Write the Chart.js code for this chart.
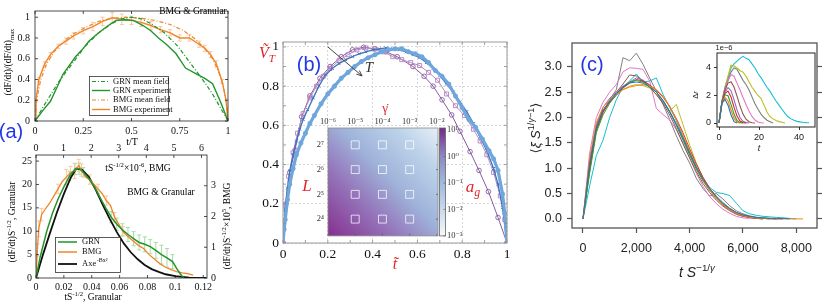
<!DOCTYPE html>
<html><head><meta charset="utf-8">
<script src="https://cdn.jsdelivr.net/npm/chart.js@4.4.1/dist/chart.umd.min.js"></script>
<style>
html,body{margin:0;padding:0;background:#fff;}
#root{position:relative;width:830px;height:307px;overflow:hidden;background:#fff;}
canvas{position:absolute;}
.t{position:absolute;white-space:nowrap;line-height:1;transform:translate(-50%,-50%);}
.r{transform:translate(-50%,-50%) rotate(-90deg);}
.serif{font-family:"Liberation Serif","DejaVu Serif",serif;}
.sans{font-family:"Liberation Sans","DejaVu Sans",Arial,sans-serif;}
.t sup,.t sub{font-size:70%;line-height:0;}
.red{color:#e0262c;}
.blue{color:#2437e6;}
</style></head><body><div id="root"></div>
<script>
// ================= DATA =================
// ---- (a) upper panel: normalised rate vs t/T ----
const aTopTicksX = [0, 0.25, 0.5, 0.75, 1];
const aTopTicksY = [0, 0.2, 0.4, 0.6, 0.8, 1];
const grnMeanX = [0,0.04,0.08,0.12,0.16,0.2,0.26,0.33,0.4,0.45,0.5,0.55,0.6,0.67,0.74,0.8,0.84,0.88,0.92,0.96,1];
const grnMeanY = [0,0.13,0.25,0.37,0.47,0.57,0.72,0.85,0.94,0.985,1,0.985,0.94,0.85,0.72,0.57,0.47,0.37,0.26,0.13,0];
const grnExpX = [0,0.04,0.08,0.12,0.145,0.18,0.21,0.25,0.28,0.33,0.38,0.42,0.47,0.51,0.56,0.6,0.64,0.68,0.73,0.78,0.84,0.88,0.92,0.96,1];
const grnExpY = [0,0.1,0.19,0.35,0.45,0.54,0.62,0.7,0.77,0.85,0.92,0.97,0.975,0.97,0.92,0.87,0.8,0.74,0.65,0.51,0.45,0.41,0.36,0.19,0];
const bmgMeanX = [0,0.01,0.03,0.06,0.1,0.15,0.2,0.26,0.33,0.4,0.47,0.55,0.62,0.7,0.77,0.83,0.88,0.92,0.95,0.975,0.99,1];
const bmgMeanY = [0,0.22,0.4,0.55,0.67,0.77,0.84,0.9,0.96,0.99,1,0.99,0.97,0.93,0.87,0.79,0.7,0.6,0.48,0.34,0.2,0];
const bmgExpX = [0,0.005,0.02,0.05,0.08,0.12,0.16,0.2,0.25,0.3,0.35,0.4,0.45,0.5,0.55,0.6,0.65,0.7,0.75,0.8,0.85,0.88,0.91,0.94,0.97,0.99,1];
const bmgExpY = [0,0.2,0.4,0.55,0.64,0.72,0.77,0.82,0.87,0.91,0.96,0.995,0.98,0.97,0.95,0.92,0.88,0.85,0.8,0.8,0.74,0.7,0.64,0.55,0.38,0.2,0];
const bmgExpErr = [0,0,0.02,0.02,0.02,0.02,0.03,0.03,0.03,0.04,0.04,0.05,0.05,0.04,0.04,0.04,0.03,0.03,0.03,0.03,0.03,0.03,0.03,0.03,0.02,0,0];

// ---- (a) lower panel: scaled averages ----
const aBotTicksX = [0, 0.02, 0.04, 0.06, 0.08, 0.1, 0.12];
const aBotTicksX2 = [0, 1, 2, 3, 4, 5, 6];
const aBotTicksY = [0, 5, 10, 15, 20, 25];
const aBotTicksY2 = [0, 1, 2, 3];
const grnScaledX = [0,0.003,0.0077,0.012,0.016,0.02,0.024,0.028,0.031,0.034,0.038,0.042,0.046,0.05,0.054,0.058,0.062,0.066,0.07,0.074,0.078,0.082,0.086,0.09,0.094,0.098,0.101,0.104,0.106];
const grnScaledY = [0,4.5,10,14,17,19.5,21.8,23.3,23.4,22.6,21.2,19.5,17.2,15,13,11.5,10.3,9.3,8.4,7.6,7.2,6.7,5.9,5,4.3,3.5,2,0.7,0];
const grnScaledErr = [0,0,0,0,0,0,1,1.2,1.2,1,0,0,0,0,1.2,1.3,1.3,1.5,1.5,1.6,1.6,1.5,1.7,2,2,1.5,0,0,0];
// BMG on top (x1e-6) / right (x1e5) axes
const bmgScaledX = [0,0.05,0.1,0.2,0.35,0.5,0.65,0.8,0.95,1.1,1.25,1.4,1.55,1.65,1.8,1.95,2.1,2.25,2.4,2.55,2.7,2.85,3.0,3.15,3.3,3.5,3.7,3.9,4.1,4.3,4.5,4.7,4.9,5.1,5.3,5.5,5.7];
const bmgScaledY = [0,0.91,1.6,2.06,2.26,2.44,2.67,2.9,3.13,3.28,3.43,3.48,3.66,3.51,3.28,3.2,3.05,2.9,2.74,2.52,2.36,1.98,1.75,1.52,1.37,1.22,1.07,0.96,0.76,0.61,0.46,0.35,0.27,0.21,0.17,0.14,0.09];
const bmgScaledErr = [0,0.2,0.25,0.2,0,0,0,0.15,0,0.25,0.2,0.25,0.2,0.2,0,0.15,0,0.15,0,0.15,0,0.15,0,0.15,0,0,0,0,0,0,0,0,0,0,0,0,0];
const fitX = [0,0.005,0.01,0.015,0.02,0.025,0.029,0.033,0.038,0.043,0.048,0.053,0.058,0.063,0.068,0.073,0.078,0.083,0.088,0.093,0.1,0.11,0.122];
const fitY = [0,5,9.6,14,18,21.5,23.4,23.2,21.6,18.8,15.6,12.6,9.8,7.4,5.5,4,2.8,1.9,1.3,0.8,0.4,0.1,0];

// ---- (b) normalised velocity profiles ----
const bTicks = [0, 0.2, 0.4, 0.6, 0.8, 1];
const bMinor = [0.1, 0.3, 0.5, 0.7, 0.9];
const bPurpleX = [0,0.013,0.03,0.054,0.083,0.12,0.165,0.21,0.26,0.31,0.36,0.41,0.46,0.51,0.58,0.63,0.67,0.71,0.753,0.79,0.835,0.875,0.917,0.96,1];
const bPurpleY = [0,0.2,0.36,0.474,0.644,0.75,0.84,0.9,0.95,0.985,0.998,0.99,0.975,0.95,0.9,0.85,0.8,0.73,0.653,0.57,0.466,0.37,0.262,0.13,0];
const bLilacX = [0,0.01,0.025,0.045,0.065,0.09,0.12,0.15,0.18,0.21,0.25,0.29,0.33,0.37,0.41,0.45,0.49,0.53,0.57,0.61,0.65,0.69,0.73,0.77,0.81,0.85,0.88,0.91,0.94,0.97,0.99,1];
const bLilacY = [0,0.19,0.34,0.46,0.56,0.66,0.74,0.8,0.85,0.89,0.93,0.96,0.985,0.995,0.99,0.975,0.95,0.935,0.92,0.905,0.87,0.83,0.76,0.7,0.65,0.58,0.52,0.45,0.36,0.24,0.12,0];
const bBlueX = [0,0.009,0.02,0.031,0.045,0.06,0.075,0.09,0.11,0.135,0.16,0.19,0.22,0.25,0.28,0.31,0.34,0.37,0.4,0.43,0.46,0.49,0.52,0.55,0.58,0.61,0.64,0.67,0.7,0.73,0.76,0.79,0.82,0.85,0.88,0.91,0.94,0.96,0.98,1];
const bBlueY = [0,0.17,0.28,0.37,0.45,0.52,0.58,0.63,0.68,0.74,0.8,0.857,0.89,0.915,0.935,0.95,0.965,0.975,0.985,0.99,0.995,0.99,0.985,0.975,0.96,0.945,0.92,0.89,0.855,0.81,0.77,0.72,0.67,0.61,0.54,0.47,0.38,0.3,0.18,0];
const bSkyX = [0,0.005,0.01,0.02,0.03,0.045,0.06,0.08,0.1,0.12,0.14,0.17,0.2,0.23,0.26,0.29,0.32,0.35,0.38,0.41,0.44,0.47,0.5,0.53,0.56,0.59,0.62,0.65,0.68,0.71,0.74,0.77,0.8,0.83,0.86,0.89,0.92,0.94,0.96,0.98,0.99,1];
const bSkyY = [0,0.07,0.12,0.22,0.3,0.38,0.45,0.51,0.56,0.61,0.65,0.71,0.76,0.8,0.84,0.87,0.9,0.925,0.945,0.96,0.975,0.985,0.99,0.99,0.975,0.965,0.95,0.92,0.88,0.85,0.81,0.75,0.69,0.63,0.59,0.53,0.47,0.43,0.37,0.25,0.15,0];
// (b) inset: strain rate x system size grid
const bRates = [1e-5, 1e-4, 1e-3];
const bSizes = [16, 32, 64, 128];
const bRateTicks = [1e-6, 1e-5, 1e-4, 1e-3, 1e-2];
const bSizeTicks = [16, 32, 64, 128];
const bBarTicks = [1e-3, 1e-2, 1e-1, 1, 10];

// ---- (c) collapsed avalanche shapes ----
const cTicksX = [0, 2000, 4000, 6000, 8000];
const cTicksY = [0, 0.5, 1.0, 1.5, 2.0, 2.5, 3.0];
const cX = [0,250,500,750,1000,1250,1500,1750,2000,2250,2500,2750,3000,3250,3500,3750,4000,4250,4500,4750,5000,5250,5500,5750,6000,6250,6500,6750,7000,7250,7500,7750,8000,8250];
const cBlue   = [0,1.10,1.80,2.15,2.32,2.47,2.60,2.68,2.70,2.68,2.60,2.50,2.34,2.12,1.88,1.60,1.30,1.02,0.78,0.60,0.45,0.32,0.21,0.13,0.08,0.05,0.03,0.02,0.01,0.01,0.01,0.00];
const cOrange = [0,1.20,1.90,2.20,2.35,2.45,2.55,2.60,2.63,2.65,2.62,2.55,2.42,2.22,1.96,1.66,1.34,1.03,0.77,0.57,0.41,0.28,0.18,0.11,0.06,0.03,0.02,0.01,0.01,0.00,0.00,0.00,0.00,0.00];
const cGreen  = [0,0.90,1.70,2.05,2.28,2.45,2.60,2.70,2.73,2.70,2.62,2.50,2.34,2.12,1.86,1.56,1.26,0.98,0.75,0.57,0.42,0.30,0.20,0.12,0.07,0.04,0.02,0.01,0.00];
const cRed    = [0,1.00,1.80,2.12,2.30,2.44,2.58,2.68,2.75,2.72,2.64,2.54,2.40,2.22,1.98,1.70,1.38,1.08,0.82,0.60,0.43,0.29,0.19,0.11,0.06,0.03,0.02,0.01,0.00,0.00,0.00];
const cPurple = [0,1.10,1.85,2.20,2.38,2.50,2.62,2.70,2.78,2.74,2.64,2.50,2.32,2.10,1.84,1.56,1.27,1.00,0.76,0.56,0.40,0.27,0.17,0.10,0.05,0.03,0.01,0.00];
const cBrown  = [0,1.00,1.75,2.10,2.32,2.50,2.66,2.84,2.82,2.72,2.60,2.45,2.28,2.05,1.78,1.48,1.20,0.93,0.70,0.52,0.37,0.25,0.16,0.09,0.05,0.03,0.01,0.00];
const cPink   = [0,1.30,2.00,2.30,2.50,2.65,2.90,2.98,2.97,2.95,2.72,2.18,2.06,1.95,1.76,1.50,1.20,0.90,0.64,0.44,0.30,0.19,0.11,0.05,0.02,0.01,0.01,0.00];
const cGray   = [0,0.95,1.75,2.10,2.35,2.55,3.18,3.12,3.27,3.05,2.78,2.52,2.26,1.96,1.64,1.35,1.10,0.80,0.60,0.45,0.50,0.39,0.26,0.16,0.10,0.06,0.03,0.02,0.01,0.00];
const cOlive  = [0,1.10,1.85,2.15,2.30,2.45,2.55,2.62,2.65,2.63,2.58,2.46,2.30,2.12,2.26,1.86,1.46,1.10,0.82,0.60,0.43,0.30,0.20,0.12,0.08,0.05,0.03,0.02,0.01,0.00];
const cCyan   = [0,0.65,1.25,1.55,2.00,2.35,2.60,2.72,2.86,2.70,2.72,2.78,2.46,2.20,1.94,1.62,1.32,1.02,0.80,0.62,0.52,0.50,0.46,0.31,0.16,0.10,0.07,0.05,0.04,0.03,0.02,0.01,0.00];
// (c) inset: raw shapes, values in units of 1e-6
const iTicksX = [0, 20, 40];
const iTicksY = [0, 2, 4];
const insT = [0,1.5,3,4.5,6,7.5,9,10.5,12,13.5,15,16.5,18,19.5,21,22.5,24,25.5,27,28.5,30,31.5,33,34.5,36,37.5,39,40.5,42,43.5,45];
const iBlue   = [0,1.45,1.72,1.30,0.60,0.10,0];
const iOrange = [0,1.45,1.88,1.60,0.95,0.35,0.06,0];
const iGreen  = [0,1.50,2.05,1.98,1.35,0.65,0.18,0.03,0];
const iRed    = [0,1.50,2.15,2.32,1.90,1.15,0.50,0.14,0.03,0];
const iPurple = [0,1.52,2.25,2.58,2.35,1.70,0.95,0.40,0.12,0.03,0];
const iBrown  = [0,1.55,2.40,2.90,3.00,2.62,1.95,1.25,0.65,0.28,0.09,0.02,0];
const iPink   = [0,1.55,2.45,3.05,3.52,3.40,2.90,2.40,1.85,1.35,0.88,0.48,0.22,0.08,0.02,0];
const iGray   = [0,1.60,2.50,3.10,3.70,4.00,3.90,3.50,3.10,2.80,2.40,1.90,1.40,1.00,0.65,0.40,0.20,0.10,0];
const iOlive  = [0,1.60,2.60,3.40,4.20,4.15,4.00,3.80,3.70,3.40,3.00,2.60,2.30,2.00,1.80,1.30,0.80,0.46,0.30,0.18,0.10,0.05,0];
const iCyan   = [0,1.60,2.60,3.30,4.00,4.30,4.50,4.70,4.85,4.70,4.60,4.30,4.00,3.60,3.30,2.95,2.60,2.30,1.95,1.60,1.30,1.00,0.70,0.45,0.30,0.20,0.12,0.08,0.05,0.03,0.02];

// ================= STYLE / HELPERS =================
const SERIF = '"Liberation Serif","DejaVu Serif",serif';
const SANS = '"Liberation Sans","DejaVu Sans",Arial,sans-serif';
const GREEN = '#23952a', ORANGE = '#f0862a';
const TAB = ['#1f77b4','#ff7f0e','#2ca02c','#d62728','#9467bd','#8c564b','#e377c2','#7f7f7f','#bcbd22','#17becf'];
const SUPS = {'0':'⁰','1':'¹','2':'²','3':'³','4':'⁴','5':'⁵','6':'⁶','7':'⁷','8':'⁸','9':'⁹','-':'⁻'};
const sup = s => String(s).split('').map(c => SUPS[c] || c).join('');
const pow10 = v => '10' + sup(Math.round(Math.log10(v)));
const pow2 = v => '2' + sup(Math.round(Math.log2(v)));
Chart.defaults.elements.point.radius = 0;
Chart.defaults.elements.line.tension = 0;

const root = document.getElementById('root');
function pts(xs, ys) { const n = Math.min(xs.length, ys.length), o = []; for (let i = 0; i < n; i++) o.push({x: xs[i], y: ys[i]}); return o; }
function setTicks(list) { return s => { s.ticks = list.map(v => ({value: v})); }; }
function ax(pos, size, o) {
  const horiz = pos === 'top' || pos === 'bottom';
  return Object.assign({position: pos, afterFit: s => { if (horiz) s.height = size; else s.width = size; }}, o);
}
function pad(pos, size) { return ax(pos, size, {type: 'linear', display: true, grid: {display: false, drawTicks: false}, border: {display: false}, ticks: {display: false}}); }
function tk(font, size, padding, cb, color) { return {font: {family: font, size: size}, color: color || '#111', padding: padding, callback: cb, autoSkip: false, maxRotation: 0, minRotation: 0}; }
const noGrid = {grid: {display: false, drawTicks: false}, border: {display: false}};
function mk(left, top, w, h, cfg) {
  const c = document.createElement('canvas');
  c.width = w; c.height = h;
  Object.assign(c.style, {left: left + 'px', top: top + 'px', width: w + 'px', height: h + 'px'});
  root.appendChild(c);
  cfg.options = Object.assign({responsive: false, animation: false, devicePixelRatio: 1, events: []}, cfg.options);
  cfg.options.layout = {padding: 0, autoPadding: false};
  cfg.options.plugins = Object.assign({legend: {display: false}, tooltip: {enabled: false}}, cfg.options.plugins);
  return new Chart(c, cfg);
}
function txt(html, x, y, cls, style) {
  const d = document.createElement('div');
  d.className = 't ' + (cls || '');
  d.innerHTML = html;
  d.style.left = x + 'px'; d.style.top = y + 'px';
  if (style) d.style.cssText += ';' + style;
  root.appendChild(d);
}

const deco = {
  id: 'deco',
  beforeDraw(chart, args, o) {
    const {ctx, chartArea: a} = chart;
    if (o.bg) { ctx.save(); ctx.fillStyle = o.bg; ctx.fillRect(a.left, a.top, a.width, a.height); ctx.restore(); }
  },
  beforeDatasetsDraw(chart, args, o) {
    const {ctx, chartArea: a} = chart;
    if (o.heat) {
      ctx.save();
      const g = ctx.createLinearGradient(a.left, a.bottom, a.right, a.top);
      o.heat.forEach(s => g.addColorStop(s[0], s[1]));
      ctx.fillStyle = g; ctx.fillRect(a.left, a.top, a.width, a.height); ctx.restore();
    }
    chart.data.datasets.forEach((ds, i) => {
      if (!ds.errors) return;
      const meta = chart.getDatasetMeta(i);
      const sx = chart.scales[meta.xAxisID], sy = chart.scales[meta.yAxisID];
      ctx.save(); ctx.strokeStyle = ds.errorColor; ctx.lineWidth = 1; ctx.beginPath();
      ds.data.forEach((p, j) => {
        const e = ds.errors[j]; if (!e) return;
        const x = sx.getPixelForValue(p.x), y1 = sy.getPixelForValue(p.y - e), y2 = sy.getPixelForValue(p.y + e), c = ds.errorCap || 2;
        ctx.moveTo(x, y1); ctx.lineTo(x, y2);
        ctx.moveTo(x - c, y1); ctx.lineTo(x + c, y1);
        ctx.moveTo(x - c, y2); ctx.lineTo(x + c, y2);
      });
      ctx.stroke(); ctx.restore();
    });
  },
  afterDraw(chart, args, o) {
    const {ctx, chartArea: a} = chart;
    if (o.ticks) o.ticks.forEach(t => {
      const sc = chart.scales[t.axis], L = t.len || 3;
      ctx.save(); ctx.strokeStyle = t.color || '#222'; ctx.lineWidth = t.width || 0.8; ctx.beginPath();
      t.values.forEach(v => {
        const p = sc.getPixelForValue(v);
        if (t.side === 'bottom') { ctx.moveTo(p, a.bottom); ctx.lineTo(p, a.bottom - L); }
        else if (t.side === 'top') { ctx.moveTo(p, a.top); ctx.lineTo(p, a.top + L); }
        else if (t.side === 'left') { ctx.moveTo(a.left, p); ctx.lineTo(a.left + L, p); }
        else { ctx.moveTo(a.right, p); ctx.lineTo(a.right - L, p); }
      });
      ctx.stroke(); ctx.restore();
    });
    if (o.colorbar) {
      const cb = o.colorbar, x0 = a.right + cb.gap, w = cb.width;
      const g = ctx.createLinearGradient(0, a.bottom, 0, a.top);
      cb.stops.forEach(s => g.addColorStop(s[0], s[1]));
      ctx.save(); ctx.fillStyle = g; ctx.fillRect(x0, a.top, w, a.height);
      ctx.strokeStyle = cb.edge; ctx.lineWidth = 0.8; ctx.strokeRect(x0, a.top, w, a.height);
      const sc = chart.scales[cb.axis]; ctx.beginPath();
      sc.ticks.forEach(t => { const p = sc.getPixelForValue(t.value); ctx.moveTo(x0 + w, p); ctx.lineTo(x0 + w - 2, p); });
      ctx.stroke(); ctx.restore();
    }
    if (o.frame) { ctx.save(); ctx.strokeStyle = o.frame.color; ctx.lineWidth = o.frame.width; ctx.strokeRect(a.left, a.top, a.width, a.height); ctx.restore(); }
    if (o.arrow) {
      const r = o.arrow, sx = chart.scales.x, sy = chart.scales.y;
      const x1 = sx.getPixelForValue(r.from[0]), y1 = sy.getPixelForValue(r.from[1]);
      const x2 = sx.getPixelForValue(r.to[0]), y2 = sy.getPixelForValue(r.to[1]);
      const an = Math.atan2(y2 - y1, x2 - x1), h = 6;
      ctx.save(); ctx.strokeStyle = r.color; ctx.lineWidth = 1; ctx.beginPath();
      ctx.moveTo(x1, y1); ctx.lineTo(x2, y2);
      ctx.moveTo(x2, y2); ctx.lineTo(x2 - h * Math.cos(an - 0.4), y2 - h * Math.sin(an - 0.4));
      ctx.moveTo(x2, y2); ctx.lineTo(x2 - h * Math.cos(an + 0.4), y2 - h * Math.sin(an + 0.4));
      ctx.stroke(); ctx.restore();
    }
    if (o.legend) {
      const L = o.legend;
      ctx.save(); ctx.fillStyle = '#fff'; ctx.fillRect(L.x, L.y, L.w, L.h);
      ctx.strokeStyle = '#333'; ctx.lineWidth = 0.8; ctx.strokeRect(L.x + 0.5, L.y + 0.5, L.w, L.h);
      ctx.textBaseline = 'middle';
      L.items.forEach((it, k) => {
        const y = L.y + L.rows[k];
        ctx.strokeStyle = it.color; ctx.lineWidth = it.width; ctx.setLineDash(it.dash || []);
        ctx.beginPath(); ctx.moveTo(L.x + L.lx0, y); ctx.lineTo(L.x + L.lx1, y); ctx.stroke(); ctx.setLineDash([]);
        ctx.fillStyle = '#111'; ctx.font = L.font; ctx.fillText(it.label, L.x + L.tx, y);
        if (it.sup) { const w = ctx.measureText(it.label).width; ctx.font = L.supFont; ctx.fillText(it.sup, L.x + L.tx + w + 0.5, y - 3.5); }
      });
      ctx.restore();
    }
  }
};
Chart.register(deco);

// ================= (a) upper =================
const dashDot = [4, 2, 1, 2];
mk(0, 0, 240, 150, {
  type: 'line',
  data: {datasets: [
    {data: pts(grnMeanX, grnMeanY), borderColor: GREEN, borderWidth: 1.2, borderDash: dashDot},
    {data: pts(grnExpX, grnExpY), borderColor: GREEN, borderWidth: 1.4},
    {data: pts(bmgMeanX, bmgMeanY), borderColor: ORANGE, borderWidth: 1.2, borderDash: dashDot},
    {data: pts(bmgExpX, bmgExpY), borderColor: ORANGE, borderWidth: 1.4, errors: bmgExpErr, errorColor: '#f7c99c', errorCap: 2}
  ]},
  options: {
    scales: {
      x: ax('bottom', 29, Object.assign({type: 'linear', min: 0, max: 1, afterBuildTicks: setTicks(aTopTicksX), ticks: tk(SERIF, 10, 4, v => String(v))}, noGrid)),
      y: ax('left', 35, Object.assign({type: 'linear', min: 0, max: 1.06, afterBuildTicks: setTicks(aTopTicksY), ticks: tk(SERIF, 10, 5, v => String(v))}, noGrid)),
      padR: pad('right', 12), padT: pad('top', 5)
    },
    plugins: {deco: {
      frame: {color: '#222', width: 0.8},
      ticks: [{axis: 'x', side: 'bottom', values: aTopTicksX}, {axis: 'x', side: 'top', values: aTopTicksX},
              {axis: 'y', side: 'left', values: aTopTicksY}, {axis: 'y', side: 'right', values: aTopTicksY}],
      legend: {x: 89, y: 76, w: 79, h: 39, rows: [5.5, 14.5, 24, 33.5], lx0: 3, lx1: 21, tx: 24,
               font: '8.5px ' + SERIF, supFont: '6px ' + SERIF,
               items: [{label: 'GRN mean field', color: GREEN, width: 1.2, dash: dashDot},
                       {label: 'GRN experiment', color: GREEN, width: 1.4},
                       {label: 'BMG mean field', color: ORANGE, width: 1.2, dash: dashDot},
                       {label: 'BMG experiment', color: ORANGE, width: 1.4}]}
    }}
  }
});

// ================= (a) lower =================
mk(0, 140, 240, 167, {
  type: 'line',
  data: {datasets: [
    {data: pts(grnScaledX, grnScaledY), borderColor: GREEN, borderWidth: 1.5, errors: grnScaledErr, errorColor: '#a8dba6', errorCap: 2},
    {data: pts(bmgScaledX, bmgScaledY), borderColor: ORANGE, borderWidth: 1.3, xAxisID: 'x2', yAxisID: 'y2', errors: bmgScaledErr, errorColor: '#f7c99c', errorCap: 2},
    {data: pts(fitX, fitY), borderColor: '#111', borderWidth: 1.8}
  ]},
  options: {
    scales: {
      x: ax('bottom', 29, Object.assign({type: 'linear', min: 0, max: 0.1227, afterBuildTicks: setTicks(aBotTicksX), ticks: tk(SERIF, 10, 3, v => String(v))}, noGrid)),
      x2: ax('top', 15, Object.assign({type: 'linear', min: 0, max: 6.2, afterBuildTicks: setTicks(aBotTicksX2), ticks: tk(SERIF, 10, 1, v => String(v))}, noGrid)),
      y: ax('left', 36, Object.assign({type: 'linear', min: 0, max: 26.3, afterBuildTicks: setTicks(aBotTicksY), ticks: tk(SERIF, 10, 4, v => String(v))}, noGrid)),
      y2: ax('right', 33, Object.assign({type: 'linear', min: 0, max: 4.0, afterBuildTicks: setTicks(aBotTicksY2), ticks: tk(SERIF, 10, 4, v => String(v))}, noGrid))
    },
    plugins: {deco: {
      frame: {color: '#222', width: 0.8},
      ticks: [{axis: 'x', side: 'bottom', values: aBotTicksX}, {axis: 'x2', side: 'top', values: aBotTicksX2},
              {axis: 'y', side: 'left', values: aBotTicksY}, {axis: 'y2', side: 'right', values: aBotTicksY2}],
      legend: {x: 55, y: 97, w: 65, h: 35, rows: [5, 15, 27], lx0: 3, lx1: 22, tx: 27,
               font: '8.5px ' + SERIF, supFont: '6px ' + SERIF,
               items: [{label: 'GRN', color: GREEN, width: 1.5},
                       {label: 'BMG', color: ORANGE, width: 1.5},
                       {label: 'Axe', color: '#111', width: 1.8, sup: '-Bx²'}]}
    }}
  }
});

// ================= (b) main =================
mk(245, 20, 280, 250, {
  type: 'line',
  data: {datasets: [
    {data: pts(bSkyX, bSkyY), borderColor: '#6fa6dc', borderWidth: 3.2, pointRadius: 2.5, pointStyle: 'star', pointBorderColor: '#6fa6dc', pointBorderWidth: 1.5},
    {data: pts(bBlueX, bBlueY), borderColor: '#3e73b9', borderWidth: 1.3, pointRadius: 2, pointStyle: 'crossRot', pointBorderColor: '#3e73b9', pointBorderWidth: 1},
    {data: pts(bLilacX, bLilacY), borderColor: '#b88cc3', borderWidth: 1, pointRadius: 2.8, pointStyle: 'rect', pointBorderColor: '#b47fc0', pointBackgroundColor: 'rgba(255,255,255,0)', pointBorderWidth: 0.9},
    {data: pts(bPurpleX, bPurpleY), borderColor: '#7b4a95', borderWidth: 0.9, pointRadius: 2.3, pointStyle: 'circle', pointBorderColor: '#8a5aa3', pointBackgroundColor: 'rgba(255,255,255,0)', pointBorderWidth: 0.9}
  ]},
  options: {
    scales: {
      x: ax('bottom', 27, {type: 'linear', min: 0, max: 1, afterBuildTicks: setTicks(bTicks), ticks: tk(SERIF, 13.5, 3, v => String(v)),
            grid: {color: '#cfcfcf', lineWidth: 0.8, drawTicks: false}, border: {display: false, dash: [2, 2]}}),
      y: ax('left', 38, {type: 'linear', min: 0, max: 1.025, afterBuildTicks: setTicks(bTicks), ticks: tk(SERIF, 13.5, 4, v => String(v)),
            grid: {color: '#cfcfcf', lineWidth: 0.8, drawTicks: false}, border: {display: false, dash: [2, 2]}}),
      padR: pad('right', 18), padT: pad('top', 22)
    },
    plugins: {deco: {
      frame: {color: '#9a9a9a', width: 1},
      ticks: [{axis: 'x', side: 'bottom', values: bMinor.concat(bTicks), color: '#888'}, {axis: 'x', side: 'top', values: bMinor.concat(bTicks), color: '#888'},
              {axis: 'y', side: 'left', values: bMinor.concat(bTicks), color: '#888'}, {axis: 'y', side: 'right', values: bMinor.concat(bTicks), color: '#888'}],
      arrow: {from: [0.2, 1.0], to: [0.353, 0.852], color: '#444'}
    }}
  }
});

// ================= (b) inset heat map =================
const gridPts = [];
bSizes.forEach(L => bRates.forEach(r => gridPts.push({x: r, y: L})));
mk(300, 95, 180, 155, {
  type: 'scatter',
  data: {datasets: [{data: gridPts, pointStyle: 'rect', pointRadius: 5.6, pointBorderColor: 'rgba(255,255,255,0.75)', pointBackgroundColor: 'rgba(255,255,255,0)', pointBorderWidth: 1}]},
  options: {
    scales: {
      x: ax('top', 33, Object.assign({type: 'logarithmic', min: 1e-6, max: 1.1e-2, afterBuildTicks: setTicks(bRateTicks), ticks: tk(SERIF, 8.5, 1, v => pow10(v), '#333')}, noGrid)),
      y: ax('left', 28, Object.assign({type: 'logarithmic', min: 10, max: 205, afterBuildTicks: setTicks(bSizeTicks), ticks: tk(SERIF, 8.5, 4, v => pow2(v), '#333')}, noGrid)),
      cb: ax('right', 42, Object.assign({type: 'logarithmic', min: 1e-3, max: 12, afterBuildTicks: setTicks(bBarTicks), ticks: tk(SERIF, 8.5, 9, v => pow10(v), '#333')}, noGrid)),
      padB: pad('bottom', 12)
    },
    plugins: {deco: {
      heat: [[0, '#86308f'], [0.3, '#9472b9'], [0.55, '#9fb3da'], [0.8, '#bcd2e9'], [1, '#e6eff6']],
      frame: {color: '#888', width: 0.8},
      colorbar: {axis: 'cb', gap: 1.5, width: 6, edge: '#666', stops: [[0, '#f5f9fc'], [0.25, '#c8d9ec'], [0.5, '#9fb9dc'], [0.75, '#8c86c2'], [1, '#76268a']]},
      ticks: [{axis: 'x', side: 'bottom', values: bRateTicks, color: '#555', len: 2}, {axis: 'y', side: 'right', values: bSizeTicks, color: '#555', len: 2}]
    }}
  }
});

// ================= (c) main =================
const cSeries = [cBlue, cOrange, cGreen, cRed, cPurple, cBrown, cPink, cGray, cOlive, cCyan];
mk(540, 30, 290, 260, {
  type: 'line',
  data: {datasets: cSeries.map((ys, i) => ({data: pts(cX, ys), borderColor: TAB[i], borderWidth: 1}))},
  options: {
    scales: {
      x: ax('bottom', 62, {type: 'linear', min: -412, max: 8775, afterBuildTicks: setTicks(cTicksX), ticks: tk(SANS, 12.5, 8, v => v.toLocaleString('en-US'), '#222'),
            grid: {drawOnChartArea: false, drawTicks: true, tickLength: 5, tickColor: '#555', tickWidth: 1.2}, border: {display: false}}),
      y: ax('left', 32, {type: 'linear', min: -0.18, max: 3.47, afterBuildTicks: setTicks(cTicksY), ticks: tk(SANS, 12.5, 5, v => v.toFixed(1), '#222'),
            grid: {drawOnChartArea: false, drawTicks: true, tickLength: 5, tickColor: '#555', tickWidth: 1.2}, border: {display: false}}),
      y2: ax('right', 13, {type: 'linear', min: -0.18, max: 3.47, afterBuildTicks: setTicks(cTicksY), ticks: {display: false},
            grid: {drawOnChartArea: false, drawTicks: true, tickLength: 5, tickColor: '#555', tickWidth: 1.2}, border: {display: false}}),
      padT: pad('top', 13)
    },
    plugins: {deco: {frame: {color: '#555', width: 1.3}}}
  }
});

// ================= (c) inset =================
const iSeries = [iBlue, iOrange, iGreen, iRed, iPurple, iBrown, iPink, iGray, iOlive, iCyan];
mk(690, 40, 135, 120, {
  type: 'line',
  data: {datasets: iSeries.map((ys, i) => ({data: pts(insT, ys), borderColor: TAB[i], borderWidth: 1.1}))},
  options: {
    scales: {
      x: ax('bottom', 33, {type: 'linear', min: -1, max: 48, afterBuildTicks: setTicks(iTicksX), ticks: tk(SANS, 9, 2, v => String(v), '#222'),
            grid: {drawOnChartArea: false, drawTicks: true, tickLength: 3, tickColor: '#333'}, border: {display: false}}),
      y: ax('left', 27, {type: 'linear', min: -0.29, max: 5.09, afterBuildTicks: setTicks(iTicksY), ticks: tk(SANS, 9, 3, v => String(v), '#222'),
            grid: {drawOnChartArea: false, drawTicks: true, tickLength: 3, tickColor: '#333'}, border: {display: false}}),
      padR: pad('right', 10), padT: pad('top', 13)
    },
    plugins: {deco: {bg: '#fff', frame: {color: '#222', width: 1}}}
  }
});

// ================= TEXT =================
// (a)
txt('(a)', 11, 131, 'sans blue', 'font-size:20px');
txt('(dF/dt)/(dF/dt)<sub>max</sub>', 9, 62, 'serif r', 'font-size:9.5px');
txt('BMG &amp; Granular', 193, 12, 'serif', 'font-size:9.5px');
txt('t/T', 132, 142, 'serif', 'font-size:10px');
txt('tS<sup>-1/2</sup>×10<sup>-6</sup>, BMG', 138, 169, 'serif', 'font-size:9.5px');
txt('BMG &amp; Granular', 161, 193, 'serif', 'font-size:9.5px');
txt('(dF/dt)S<sup>-1/2</sup>, Granular', 13, 222, 'serif r', 'font-size:9.5px');
txt('(dF/dt)S<sup>-1/2</sup>×10<sup>5</sup>, BMG', 228, 226, 'serif r', 'font-size:9.5px');
txt('tS<sup>-1/2</sup>, Granular', 93, 298, 'serif', 'font-size:9.5px');
// (b)
txt('(b)', 309, 64, 'sans blue', 'font-size:20px');
txt('<i>V&#771;</i><sub><i>T</i></sub>', 267, 53, 'serif red', 'font-size:16px');
txt('<i>T</i>', 369, 67, 'serif', 'font-size:15px;color:#333');
txt('<i>t&#771;</i>', 395, 264, 'serif red', 'font-size:16px');
txt('<i>L</i>', 307, 185, 'serif red', 'font-size:17px');
txt('<i>a</i><sub><i>g</i></sub>', 473, 186, 'serif red', 'font-size:17px');
txt('γ&#775;', 385, 107, 'serif red', 'font-size:13px');
// (c)
txt('(c)', 592, 64, 'sans blue', 'font-size:20px');
txt('⟨<i>ξ&#775;</i> <i>S</i><sup>1/<i>γ</i>−1</sup>⟩', 535, 128, 'sans r', 'font-size:13px;color:#222');
txt('<i>t S</i><sup>−1/<i>γ</i></sup>', 697, 272, 'sans', 'font-size:14px;color:#222');
txt('1e−6', 724, 48, 'sans', 'font-size:7.5px;color:#222');
txt('Δ<i>r</i>', 696, 95, 'sans r', 'font-size:7.5px;color:#222');
txt('<i>t</i>', 759, 148, 'sans', 'font-size:9px;color:#222');
</script>
</body></html>
